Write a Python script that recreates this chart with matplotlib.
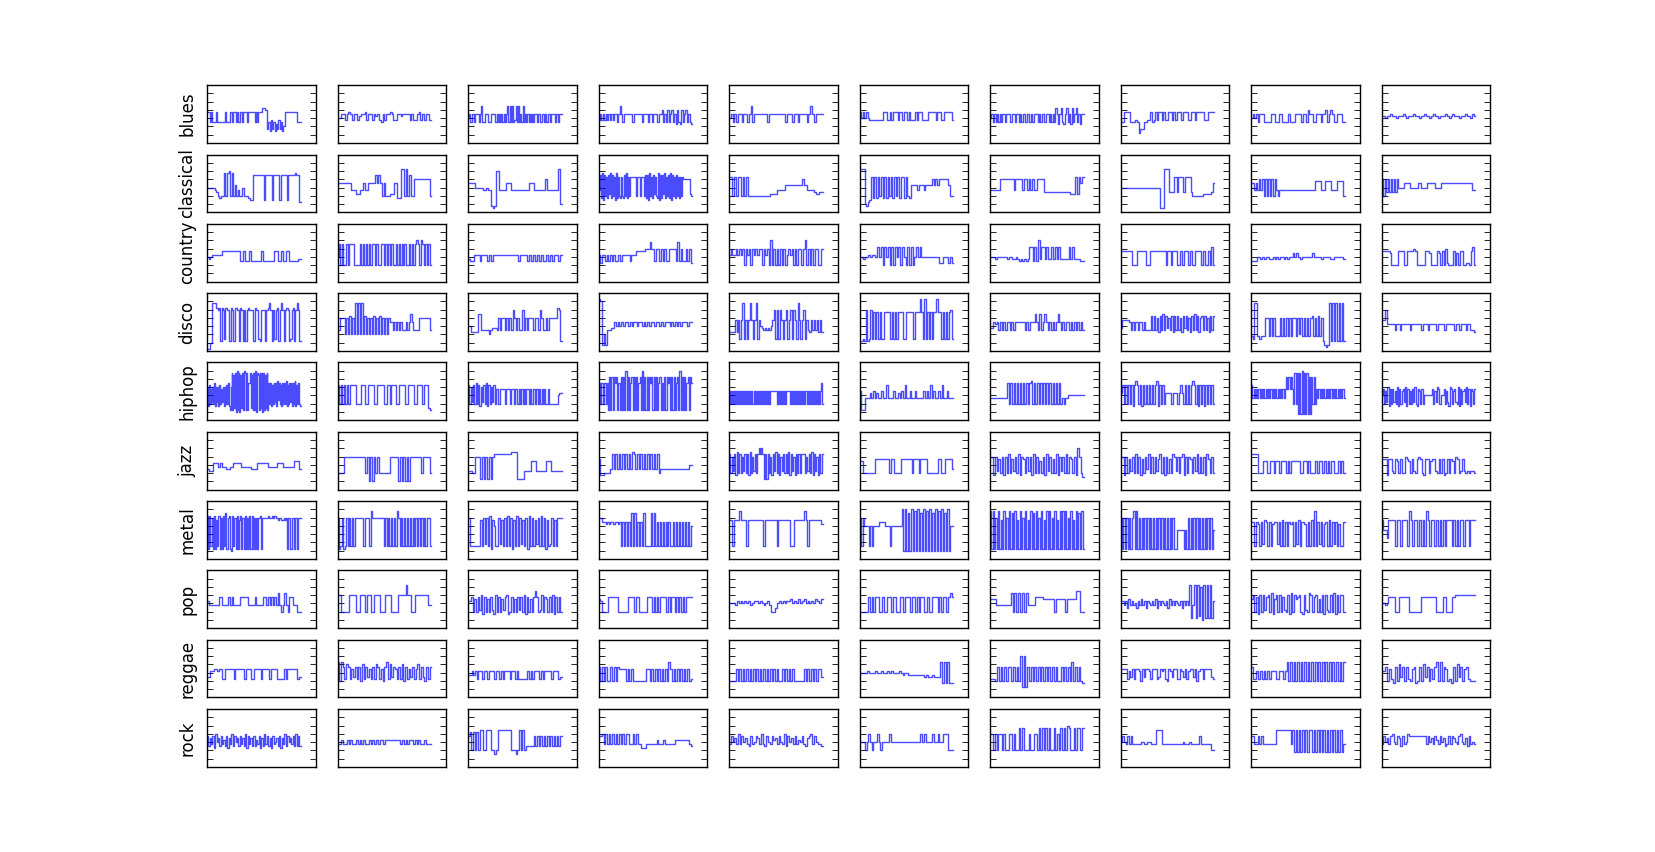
import numpy as np
import matplotlib
matplotlib.use("Agg")
import matplotlib.pyplot as plt

# each string is one clip: one letter per time step, a=1 ... z=26 on the 0-28 scale
genres = ["blues", "classical", "country", "disco", "hiphop",
          "jazz", "metal", "pop", "reggae", "rock"]
n_frames = 1293

blues = [
    "oojojjjojjjjjjojjjoojoojojoojooojooooojojoooqqppgjfkgjfigkgjfhoooooooooojjj",
    "llnnknonknnkmnnoknnknmnkjnknnonkknnmnnnnknkknoknknnk",
    "lnjnnjnnnjnrjjnnnjjnnnnjnjnjnjnjnrjrjrjkrjrjnjrjnjnjnjnjnnjnnjnnjnjnnjnnnjnnjnn",
    "knknknknknknnjnrnjnnnnnnjnnnnnnjnnnjnnjnnnjnnpjnjpjnpjnipjipjnpjnji",
    "lnjnjnnjnnjnrjnnnnnnnjnnnnnnnnnjnnnjnnjnnnnjnrnjnnnn",
    "olololkkkkkkkkkookkokoookookookokkkokookkkkoooookookkoooook",
    "lnjnjnjnjnnjnnnjnnjnnjnjnnjnnjnjnnnjnjnnjnnjnjnjqninqjinqjniqjnqjninn",
    "jjoooojjjkjeggjjkkojkokookokkookokoookoookkookoooookkoooo",
    "lnlnjnnnjjjjnnnjjnnjjjjnjjjnnnnjnnjpnnjjnnnjnnpjnpnjjnnnjj",
    "mmlmmnmmlmmmnmlmmmnmmlmmnmmlmnmmlmmmnmlmnmmmlmmnmmlnm",
]
classical = [
    "lllllkjhghhshsthshmhkhhlhhhgffrrrrrrrfrrrrfrrrrfrrrrfrrrrsrre",
    "nnnnnnnnkkkiikknkknnnnrnrnhnhhhiinngguuhuhrhhppppppppph",
    "nnnnlllllkklkkcbcttkkkknnnkkkkkkkkkkknnnkkkkkkkpkkkkkkkud",
    "krgsfrhqgrisgrhqfsgqhgqhgrhsgqhqqqqqqhqqqhqqqhrgrfshqgriqhgsfrgrisgqhrgsfrhqgrhqgqhqpppppppih",
    "qqhqhqqhqhqhhhhhhhhhhhhhiiiikkkkkmmmmmmmmmmpmmkkkkjiijj",
    "uuudcefqgqgqhqgqgqhqgqhqgqqgqhgmmmmkmmmkmmmmpmpmppppppmhh",
    "kkkkkkppppppppkppppkppkpkpkkppppjjjjjjjjjjjjjjjjiiiqiqnq",
    "lllllllllllllllllllllllllbbbuuujjjqqjqqqjqqqqjhhhhhhhiiiiijn",
    "nnknkpkphphphphpkhkkkkkkkkkkkkkkkkkkkkkkkooookkooookkkkooooh",
    "phpjpjpjpjpllllnnnnlllllnnllllnnnnnllllnnnnnnnnnnnnnnnnnnnnnkk",
]
country = [
    "lklmmmmmmmoooooooooooojjojjjojjjjjjjojjjjjjjooojjojjoojjjjjjkk",
    "lrhrhhrhrrrhhhhrhrhrhrhrrhrhhrrhrhrhrhhrhrhrhrhhrhrhrtrhtrhrhrh",
    "kjjmmmjmmmjmjmmmmmmmmmmmmmjmmmmjmjmjmjmjjmjmjmmjm",
    "mimmjmjmjmjjmjmmmmmjmmmooooopppsppjppjpjpjjppppjsjpjjpjpi",
    "mpmmpmpmphpmphpmpmpphpmphthphphphphmpmphphpphpthphphpphhp",
    "llkllmlmmlqlqhqlqhqhqlqhqlhqhqhlqlqlllllllllliilllili",
    "lllkllllllkllkklkjkjkjkqqjqjtkqqkqkkqkqkqkkkkkqkqkkkkjj",
    "ooooooohhhoooooohhoooooooooohoohooohhohooohohhoooohohhohqh",
    "jjjllklkllkklklkllklkllnlnlkllllllnllllkllllkklllllk",
    "ooooonhhhhoooohhoooopohhhhhooonhhhhonhohpihhhohnhoohhiihoqh",
]
disco = [
    "aaddwwwutueutfutteuteuuteutetetuttteuttfetttetuwtetftuetwtetuteftuetwte",
    "jjppphphqhphwhwhwhqhphphqhphqhphphpnnjnjnjnjjjnjnrnjjjjpppppppj",
    "lliiiirrjjjjjhjkkkjpjppjpjpjtpjpjjtjpjpppjppjtpjjpjpppppute",
    "yxchcjjkknlnlnlnnlnlnnlnnlnlnlnnlnnlnlnnnlnlnlnlnnnlnn",
    "iiiioiofowfofowofowfolkjkjkjlotftftofotfotftofwofotfojiojojoioi",
    "eefeteftfsfsfsffssssfsfsfsssffsssssfsssysfyfsfsfssyssfsfsfstf",
    "kknmnjnjnjnnjnjnnnnnnjnjnnnrnjrjnrnjnjnjnrnjnjnnjnjnjnjnj",
    "kooooonjnjnnjnnjnjjjjqjqjpiqjrjqkpjqiqjqjpiqkqjpiqjrjqipqjqjpiqjq",
    "gfwwgfgggppgpgpgggpgpgpgpgppgphpgpgpgpqgpgqgpecbcwewewewewe",
    "ootmmmmmjmmjmmmmmjmmmmmmjmmmjmmmmjmmmmjmmmmmjmmjmmmjmmjji",
]
hiphop = [
    "pgqhoiphrgpipgqhoipgphqhrgepwevfwdxewdvfwexwewerrwfvewexdwvewfwdwevfwerhrgqhrirgsjrhqgrhrhsgqhrirgrhsgqhrhg",
    "qhqhqhqhqqqqhhhqqqhhqqqqhhqqqqhhqqhqqqhhqqqqhhqqqqhhqqqhqqqfe",
    "qhpiqhrhqgpiqhrgqhpiqhoohoooohooohoohoohohohohoohohoohohohohohhohhhhhhhlmm",
    "rhrrhrhreueueuruereueuexeuerueueueruexeueueurueueueruereueurueueueruexeueuerueur",
    "nhnhnhnhnhnhnhnhnhnhnhnhnhnhnhnhnhnhnhnhnnnnnnnhnhnhnhnhnnnnhnhnhnhnhnhnhnhnhnhnhnhnhnhnhnrh",
    "neekkkmknkmkknkkqkkknkkmknkqkknkknkkkknknkqknkknkqkknkkk",
    "kkkkkkkkkkkrhrhrhrhrhrhrhrshrhrhrhrhrhrhrhrhrhkhkkllllllllll",
    "mqhqhqhqgqsqhqgqhqhqhqhqsgqhqhmmmmhmmmhmqmhqhqhqsqhqgqhqgqhqhqh",
    "qkokokokokokokokokokokokokokouououohwhwcwcxcwcwcucuhuhokokokokokokokokokokokok",
    "lohnipgohoinhpgohnoipgohnhoiphgonhohlllllllohnipohhllohnigpohnoihpgohnoiphogonho",
]
jazz = [
    "jiiimmmkmkkkjjkkmmmmmkkkkkkjjjjmmmmmmmkkkkkmmmmkkkkkkknnnj",
    "hhhhppppppppppppphpdpdphphhhhhhhpppppdpdpdpdppppppphpppph",
    "iihhpppepepepepqqqqqqqqqqrrreeeeiiiinnniiiiiinnniiiiii",
    "ogghhhhjqjqjqjqjqjqjrqjqjqjqjqjqjqjqhjjjjjjjjjjjjjjjjjll",
    "qhpiqgrhqhpiqhqgrhpiqhqtqtqeqeqhpgqirhqgpiqhqhrgqipgqhqhqqqhpiqhrgqipgqhq",
    "nnhhhhhhhoooooooohoohhhhoooooohooohoooohhhhhhoohhooooj",
    "ppgpiohpgphqhoiphqgpohpipgqhphnhpgqiphohqgpiphqhpohpgtphf",
    "ppgphoiphqhpgohpjqhphpioqhpgphohqpiphpqgphpohpiqhphpgqohph",
    "qqqqhhhnnhhnnhnnhnnnhnhnnnnnhhnnhnhhhnhnnhnhnhnnhhnhnh",
    "ooogooihonhohhponhoihopohgoohnooihohoghohonhpohioihihiih",
]
metal = [
    "ueufteuesfueteufvetuedufteuesueteueteueuetetetuetttttutttututtsttsststettettettett",
    "tefteftftftfttttttftttfwttttttttftftftftfwtftftftftftftftftftfttf",
    "tfffffffsftgtfuespfftgsftfuftesfuftgsfteuftfsgtfuftesfgtfsfttt",
    "ttrrrqrqrrqrrqrfrfrfrfvfvfrfrfvffffvfvfrfrfrfrfrffrfrfrfrfrfrfp",
    "ssfssswsssfsssssssssfsssssssfsssssssffsssssswsfsssssssq",
    "tftpppfpfpppprrrrpppfpppppppxdxdvdxdwdxdvdxdwdxdvdxdwdxdvdxdpp",
    "wewetewesewetewevewesewetewesewevewetewesewewetewesewewewetewesewevewe",
    "tetetetetweweteteteteteteteteteteteteteennnnneneteteteteteteteteten",
    "rrfrqfrgsrfrfqrrgrfsfrfrqrfrgsfrrqfrfsfwfrgrfqrfsfrgrfqffr",
    "snnjssssfssfsssfwsfssfsfsfwsfssfsfsfsfsssfsfsfssfssfsss",
]
pop = [
    "mkkkkkkookkkkokokkkkoooookkkkokkkkookokokokqkhkqkhookkkhh",
    "pphhhhpppphhppphpphhppphhhppphhhhppppupphhpppppppkk",
    "mmohnhoipgohnhoigphohniopghohnhoiohpgohnhorohiphonhohpgohoh",
    "nmhhhhoooooohhhhhhoooohoohhhhhooohohohoooohohoohohohohoooo",
    "lllkmlmlmlmklmmlmlklmkhhjlmlmlmmnlmlnlmnlmlmlnmln",
    "hhhhhohohoohhohhoohoohhoohooohoohohoohhohhooohohoohoqo",
    "nnnkkkkkkkkqhqhqhqhqkkkkoooonnnnnnhnnnnnhnnnnnrrhh",
    "mmkmjnkmkljmknkmjmlkmknjmkmlkmjnkmkmlkmjmkmkuekueuftdueueuem",
    "nphogphpiophqgnphphoihpgqhpnophgpihqphophnhpgpihphqgphpph",
    "llkloooohhoooooohhhhhhhooooooooohhhhoohhhoopppppppppppp",
]
reggae = [
    "jjmmnnmnniinnnnninnnnninnniinnnninnnninnnniiiininnnnnnij",
    "qhqoipoinjoiohpiojnioipoinhoqipjonioiphoinjoinpiojhoio",
    "kkmkmimmimmimmmimmimimmmimmimiiiiimimimmmimimmmmimmmij",
    "ohohohhohohonnnnhnhnhhhhhhhhnnhnhnhnhnhnhqnhnhnhnhnhnhi",
    "hhhhnhnhnhnhnhnhnhnhnhnhnhnhnhhnhnhnhnhhhhhhnhnhnhnhnnj",
    "llllmlllmllmllmlmlllmlkllkkkkkkkkjkjjkjjjqgqgqgg",
    "iiihohohohoohohohteteohohohohohohohohohhohohohqhohohg",
    "nnnnimjninnmhnjnnminnnijnmnihnmjnniinmjnimnnjnhmnninnnnji",
    "oiimimimimimmmiimmimqhqhqhqhqhqhqhqhqhqhqhqhqhqhqhqhq",
    "mmohnigohpjohoihnoghohpjohnioqhqhonhigohpjohnoihhh",
]
rock = [
    "ojnkoiplnjokmjoinkpjolnjoknjpioknjojmkoinjpkojnioklnjoinkpjolnkojpjoj",
    "kkmkkmkmkkmkmkmkkmkmkmkmmkmmmmmmmmkmkmkmmkmkmkkmkkk",
    "oqhqhqhrrhhrrrhhfhrrrrrrrrhhhfhrhrhjjjjjojojojojojojojojo",
    "oopkpkpkpkpkpkpkppkkpkpkkiiikkkkkkmkkkmkkkkkkmmmmmmmmkj",
    "kolnkpkolnkjoklonkpkjolkomnkolkpjolnkokmlokjnopkolkkj",
    "lllhlplhllplhllllplllllllllllllllllplpllllpllpllppphhh",
    "pphphpphphhpphphhshshhhphhpphshshshshhshphshshtshhshsshs",
    "lolkokokkkkkllkkllkkkrrrrkkkkkkkkkkkklkkklkkkkkokkkkkkhh",
    "ookkokokkkkkkkkrrrrrrrrrkrgrgrgrgrgrrgrgrgrgrgrgrgrgrgrgk",
    "kolnkoplkonjoklpooooooooookolnkomkolnjkokonlkoplknjoklk",
]

tracks = dict(zip(genres, [blues, classical, country, disco, hiphop,
                           jazz, metal, pop, reggae, rock]))

fig, axes = plt.subplots(10, 10, figsize=(16.56, 8.52), dpi=100)
fig.subplots_adjust(left=0.125, right=0.9, bottom=0.1, top=0.9,
                    wspace=0.2, hspace=0.2)

for r, genre in enumerate(genres):
    for c, code in enumerate(tracks[genre]):
        ax = axes[r, c]
        vals = [ord(ch) - 96 for ch in code]
        vals.append(vals[-1])
        x = np.linspace(0, n_frames, len(vals))
        ax.plot(x, vals, color="b", alpha=0.7, lw=1, drawstyle="steps-post")
        ax.set_xlim(0, 1500)
        ax.set_ylim(0, 28)
        ax.set_xticks([])
        ax.set_yticks(range(0, 29, 4))
        ax.set_yticklabels([])
        ax.tick_params(axis="y", direction="in", left=True, right=True,
                       length=4, width=0.6)
        for sp in ax.spines.values():
            sp.set_linewidth(1.0)
    axes[r, 0].set_ylabel(genre, fontsize=12)

fig.savefig("out.png", dpi=100)
